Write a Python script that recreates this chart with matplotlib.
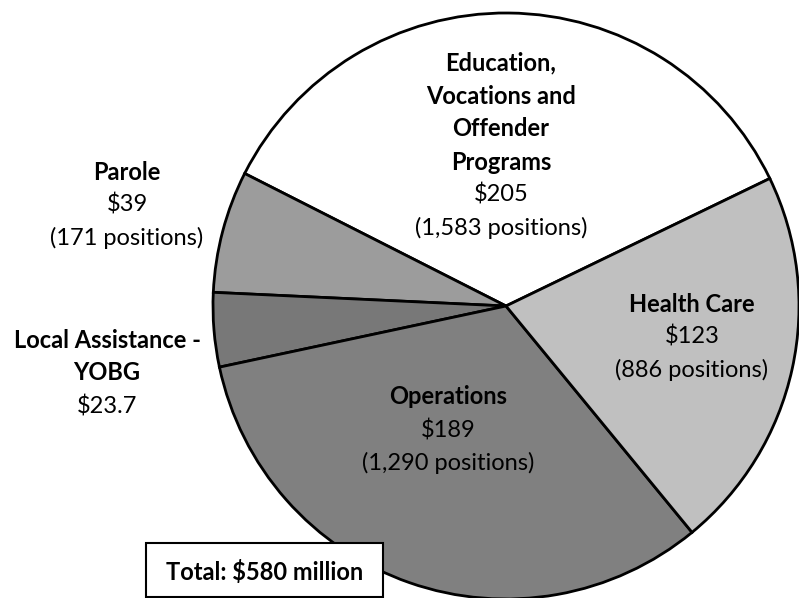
import matplotlib.pyplot as plt
from matplotlib.patches import Rectangle

plt.rcParams['font.family'] = ['Lato', 'DejaVu Sans']

# budget in millions, counterclockwise from the upper right
programs = ["Education, Vocations and Offender Programs", "Parole",
            "Local Assistance - YOBG", "Operations", "Health Care"]
amounts = [205, 39, 23.7, 189, 123]
amount_labels = ["$205", "$39", "$23.7", "$189", "$123"]
positions = ["(1,583 positions)", "(171 positions)", None,
             "(1,290 positions)", "(886 positions)"]
title_lines = [["Education,", "Vocations and", "Offender", "Programs"],
               ["Parole"],
               ["Local Assistance -", "YOBG"],
               ["Operations"],
               ["Health Care"]]
colors = ["#ffffff", "#9c9c9c", "#787878", "#808080", "#c0c0c0"]
total_text = "Total: $580 million"

W, H = 799, 598
# label anchor (x, y of first line), pixels from top-left
label_pos = [(501, 63), (127, 172), (107, 340), (448, 397), (692, 304)]
step = 33

fig = plt.figure(figsize=(7.99, 5.98), dpi=100)
ax = fig.add_axes([0, 0, 1, 1])

ax.pie(amounts, colors=colors, startangle=25.8, counterclock=True,
       center=(506, H - 306), radius=293,
       wedgeprops=dict(edgecolor="black", linewidth=2))
ax.set_xlim(0, W)
ax.set_ylim(0, H)
ax.set_aspect("equal")
ax.axis("off")

for i in range(len(programs)):
    x, y = label_pos[i]
    lines = [(t, "bold") for t in title_lines[i]]
    lines.append((amount_labels[i], "normal"))
    if positions[i]:
        lines.append((positions[i], "normal"))
    for k, (t, w) in enumerate(lines):
        ax.text(x, H - (y + k * step), t, ha="center", va="center",
                fontsize=17, fontweight=w, color="black")

ax.add_patch(Rectangle((146, H - 597), 237, 54, facecolor="white",
                       edgecolor="black", linewidth=1.5, zorder=5))
ax.text(264.5, H - 572, total_text, ha="center", va="center", fontsize=17,
        fontweight="bold", zorder=6)

fig.savefig("out.png", dpi=100)
